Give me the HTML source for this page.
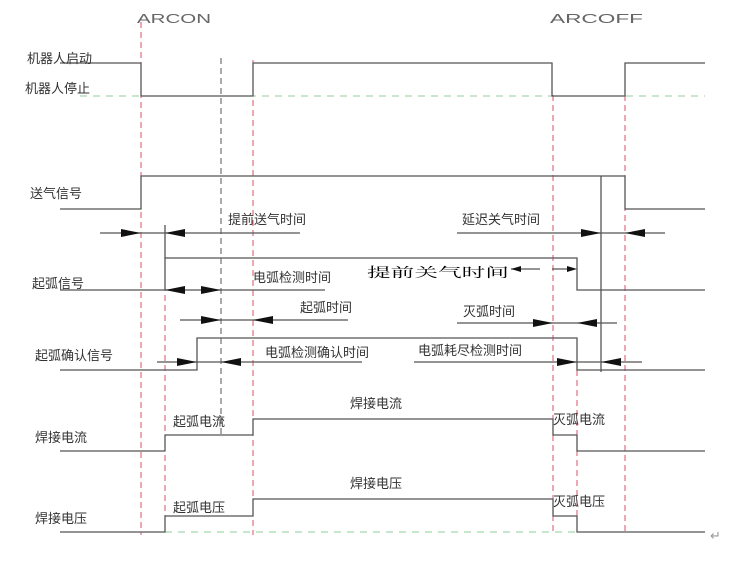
<!DOCTYPE html>
<html><head><meta charset="utf-8"><style>
html,body{margin:0;padding:0;background:#fff;}
svg{display:block}
text{font-family:"Liberation Sans","Noto Sans CJK SC",sans-serif;fill:#333;font-size:13px}
</style></head><body>
<svg width="747" height="565" viewBox="0 0 747 565" xmlns="http://www.w3.org/2000/svg">
<rect width="747" height="565" fill="#fff"/>
<!-- titles -->
<text x="137" y="23" font-size="23" textLength="74" lengthAdjust="spacingAndGlyphs" style="fill:#666">ARCON</text>
<text x="550" y="23" font-size="23" textLength="93" lengthAdjust="spacingAndGlyphs" style="fill:#666">ARCOFF</text>
<!-- red dashed verticals -->
<g stroke="#d9536a" stroke-width="1" stroke-dasharray="6,4" fill="none">
<line x1="141" y1="22" x2="141" y2="535"/>
<line x1="253" y1="60" x2="253" y2="535"/>
<line x1="553" y1="95" x2="553" y2="535"/>
<line x1="625" y1="95" x2="625" y2="535"/>
<line x1="165" y1="255" x2="165" y2="532"/>
<line x1="577" y1="370" x2="577" y2="532"/>
<line x1="601" y1="176" x2="601" y2="372"/>
</g>
<line x1="221" y1="58" x2="221" y2="436" stroke="#555" stroke-dasharray="6,4"/>
<!-- green dashed -->
<g stroke="#8fcf9a" stroke-width="1" stroke-dasharray="7,6">
<line x1="80" y1="96" x2="705" y2="96"/>
<line x1="165" y1="532" x2="577" y2="532"/>
</g>
<!-- signals -->
<g stroke="#555" stroke-width="1.3" fill="none">
<polyline points="60,63 141,63 141,96 253,96 253,63 552,63 552,96 625,96 625,63 705,63"/>
<polyline points="60,209 141,209 141,176 625,176 625,209 705,209"/>
<line x1="601" y1="176" x2="601" y2="372"/>
<line x1="165" y1="225" x2="165" y2="258"/>
<polyline points="60,290 165,290 165,258 577,258 577,290 705,290"/>
<polyline points="60,370 197,370 197,338 577,338 577,370 705,370"/>
<polyline points="60,451 165,451 165,435 253,435 253,419 553,419 553,435 577,435 577,451 705,451"/>
<polyline points="60,532 165,532 165,516 253,516 253,499 553,499 553,516 577,516 577,532 705,532"/>
<!-- dimension lines -->
<line x1="100" y1="233" x2="300" y2="233"/>
<line x1="457" y1="233" x2="665" y2="233"/>
<line x1="165" y1="290" x2="325" y2="290"/>
<line x1="180" y1="320" x2="348" y2="320"/>
<line x1="457" y1="323" x2="617" y2="323"/>
<line x1="157" y1="362" x2="362" y2="362"/>
<line x1="414" y1="362" x2="642" y2="362"/>
<line x1="511" y1="269" x2="540" y2="269"/>
<line x1="552" y1="269" x2="574" y2="269"/>
</g>
<!-- arrowheads -->
<g fill="#111">
<!-- right pointing tip at x -->
<polygon points="141,233 121,229 121,237"/>
<polygon points="221,290 201,286 201,294"/>
<polygon points="221,320 201,316 201,324"/>
<polygon points="197,362 177,358 177,366"/>
<polygon points="601,233 581,229 581,237"/>
<polygon points="553,323 533,319 533,327"/>
<polygon points="577,362 557,358 557,366"/>
<!-- left pointing -->
<polygon points="165,233 185,229 185,237"/>
<polygon points="165,290 185,286 185,294"/>
<polygon points="253,320 273,316 273,324"/>
<polygon points="221,362 241,358 241,366"/>
<polygon points="625,233 645,229 645,237"/>
<polygon points="577,323 597,319 597,327"/>
<polygon points="601,362 621,358 621,366"/>
<!-- small arrows -->
<polygon points="511,269 521,266 521,272"/>
<polygon points="577,269 567,266 567,272"/>
</g>
<!-- left labels -->
<text x="27" y="63">机器人启动</text>
<text x="25" y="93">机器人停止</text>
<text x="30" y="198">送气信号</text>
<text x="32" y="288">起弧信号</text>
<text x="35" y="360">起弧确认信号</text>
<text x="35" y="442">焊接电流</text>
<text x="35" y="523">焊接电压</text>
<!-- annotations -->
<text x="228" y="224">提前送气时间</text>
<text x="462" y="224">延迟关气时间</text>
<text x="253" y="282">电弧检测时间</text>
<text x="300" y="312">起弧时间</text>
<text x="463" y="316">灭弧时间</text>
<text x="265" y="357">电弧检测确认时间</text>
<text x="418" y="355">电弧耗尽检测时间</text>
<text x="173" y="426">起弧电流</text>
<text x="350" y="408">焊接电流</text>
<text x="553" y="424">灭弧电流</text>
<text x="173" y="512">起弧电压</text>
<text x="350" y="488">焊接电压</text>
<text x="553" y="506">灭弧电压</text>
<text x="367" y="277" font-size="23" style="fill:#000;font-family:'Liberation Serif','Noto Serif CJK SC',serif" textLength="142" lengthAdjust="spacingAndGlyphs">提前关气时间</text>
<text x="710" y="540" font-size="12" style="fill:#999">↵</text>
</svg>
</body></html>
